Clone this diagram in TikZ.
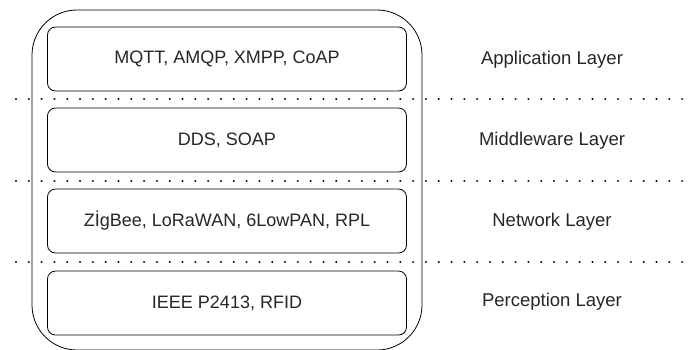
\documentclass[tikz,border=0pt]{standalone}
\usepackage{fontspec}
\setmainfont{Liberation Sans}
\usepackage{tikz}
\usetikzlibrary{calc}
\tikzset{
	proto/.style={draw,rounded corners=8pt,line width=0.8pt,minimum width=359pt,minimum height=64pt,font=\fontsize{18}{21}\selectfont,text=black!85},
	layer/.style={font=\fontsize{18.5}{21}\selectfont,text=black!85},
	sep/.style={line width=2.4pt,dash pattern=on 0.01pt off 12.8pt,line cap=round}
}

\begin{document}
\begin{tikzpicture}[x=1pt,y=-1pt]
	\useasboundingbox (0,0) rectangle (690,349);
	\clip (0,0) rectangle (690,349);
	\draw[line width=0.8pt,rounded corners=45pt] (32,10) rectangle (422,350);
	
	\node[proto] (app) at (227, 59) {MQTT, AMQP, XMPP, CoAP};
	\node[proto] (mid) at (227,140) {DDS, SOAP};
	\node[proto] (net) at (227,221) {ZİgBee, LoRaWAN, 6LowPAN, RPL};
	\node[proto] (per) at (227,303) {IEEE P2413, RFID};
	
	\node[layer] (appl) at (552, 60) {Application Layer};
	\node[layer] (midl) at (552,141) {Middleware Layer};
	\node[layer] (netl) at (552,222) {Network Layer};
	\node[layer] (perl) at (552,302) {Perception Layer};
	
	\draw[sep] (16, 99) -- (690, 99);
	\draw[sep] (16,181) -- (690,181);
	\draw[sep] (16,262) -- (690,262);
\end{tikzpicture}
\end{document}
